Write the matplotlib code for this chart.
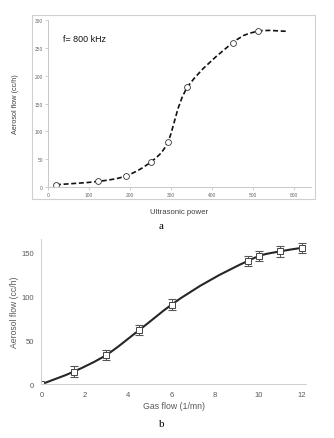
import numpy as np
import matplotlib
matplotlib.use("Agg")
import matplotlib.pyplot as plt
from matplotlib.path import Path
from matplotlib.patches import PathPatch, Rectangle

plt.rcParams['font.family'] = ['Liberation Sans', 'DejaVu Sans']

# panel a: aerosol flow vs ultrasonic power (f = 800 kHz)
power = [20, 122, 191, 251, 292, 340, 450, 512]
flow_a = [4, 10, 20, 45, 80, 179, 259, 280]
power_line = power + [580]
flow_line = flow_a + [280]

# panel b: aerosol flow vs gas flow
gas = [0, 1.5, 3, 4.5, 6, 9.5, 10, 11, 12]
flow_b = [0, 14.5, 33.5, 61.5, 90.5, 140, 145.5, 151, 155]
err_b = [0, 6, 6, 6, 6, 6, 6, 6, 6]


def smooth_path(xs, ys):
    # Catmull-Rom style bezier, similar to the spreadsheet "smoothed line"
    p = np.column_stack([xs, ys]).astype(float)
    n = len(p)
    verts = [p[0]]
    codes = [Path.MOVETO]
    for i in range(n - 1):
        p0 = p[i - 1] if i > 0 else p[i]
        p3 = p[i + 2] if i + 2 < n else p[i + 1]
        c1 = p[i] + (p[i + 1] - p0) / 6
        c2 = p[i + 1] - (p3 - p[i]) / 6
        verts += [c1, c2, p[i + 1]]
        codes += [Path.CURVE4] * 3
    return Path(verts, codes)


def smooth_path_x(xs, ys):
    # hermite curve with x as the parameter, three-point parabolic slopes
    x = np.asarray(xs, float)
    y = np.asarray(ys, float)
    n = len(x)
    h = np.diff(x)
    d = np.diff(y) / h
    m = np.empty(n)
    m[0] = d[0]
    m[-1] = d[-1]
    m[1:-1] = (h[1:] * d[:-1] + h[:-1] * d[1:]) / (h[:-1] + h[1:])
    verts = [(x[0], y[0])]
    codes = [Path.MOVETO]
    for i in range(n - 1):
        verts += [(x[i] + h[i] / 3, y[i] + m[i] * h[i] / 3),
                  (x[i + 1] - h[i] / 3, y[i + 1] - m[i + 1] * h[i] / 3),
                  (x[i + 1], y[i + 1])]
        codes += [Path.CURVE4] * 3
    return Path(verts, codes)


fig = plt.figure(figsize=(3.34, 4.39), dpi=100)

# chart-area box of panel a
fig.patches.append(Rectangle((0.0958, 0.5444), 0.847, 0.419, transform=fig.transFigure,
                             fill=False, edgecolor='#d0d0d0', linewidth=0.8))

ax1 = fig.add_axes([0.1428, 0.5718, 0.787, 0.380])
ax1.add_patch(PathPatch(smooth_path(power_line, flow_line), fill=False,
                        edgecolor='#111111', linewidth=1.2, linestyle=(0, (3, 1.6))))
ax1.plot(power, flow_a, linestyle='none', marker='o', markersize=4.2,
         markerfacecolor='white', markeredgecolor='#333333', markeredgewidth=0.6)
ax1.set_xlim(0, 640)
ax1.set_ylim(0, 300)
ax1.set_xticks(range(0, 700, 100))
ax1.set_yticks(range(0, 350, 50))
for s in ['top', 'right']:
    ax1.spines[s].set_visible(False)
for s in ['left', 'bottom']:
    ax1.spines[s].set_color('#c8c8c8')
    ax1.spines[s].set_linewidth(0.7)
ax1.tick_params(labelsize=3.5, labelcolor='#666666', color='#c8c8c8',
                length=2, width=0.6, pad=1.5)
ax1.set_xlabel('Ultrasonic power', fontsize=5.6, color='#404040', labelpad=8)
ax1.set_ylabel('Aerosol flow (cc/h)', fontsize=5.2, color='#404040', labelpad=11)
ax1.text(0.06, 0.89, 'f= 800 kHz', transform=ax1.transAxes, fontsize=6.4,
         color='#111111', va='center')

fig.text(0.482, 0.483, 'a', family=['Liberation Serif', 'DejaVu Serif'],
         fontsize=8, ha='center', va='center')

ax2 = fig.add_axes([0.1237, 0.1223, 0.7935, 0.331])
ax2.add_patch(PathPatch(smooth_path_x(gas, flow_b), fill=False,
                        edgecolor='#262626', linewidth=1.5))
ax2.errorbar(gas[1:], flow_b[1:], yerr=err_b[1:], fmt='none', ecolor='#555555',
             elinewidth=0.7, capsize=2.8, capthick=0.8)
ax2.plot(gas, flow_b, linestyle='none', marker='s', markersize=4.2,
         markerfacecolor='white', markeredgecolor='#444444', markeredgewidth=0.7)
ax2.set_xlim(0, 12.2)
ax2.set_ylim(0, 165)
ax2.set_xticks(range(0, 14, 2))
ax2.set_yticks([0, 50, 100, 150])
for s in ['top', 'right']:
    ax2.spines[s].set_visible(False)
for s in ['left', 'bottom']:
    ax2.spines[s].set_color('#d0d0d0')
    ax2.spines[s].set_linewidth(0.7)
ax2.tick_params(labelsize=5.5, labelcolor='#595959', length=0, pad=5)
ax2.set_xlabel('Gas flow (1/mn)', fontsize=6.3, color='#595959', labelpad=2)
ax2.set_ylabel('Aerosol flow (cc/h)', fontsize=6.2, color='#595959', labelpad=2)

fig.text(0.485, 0.032, 'b', family=['Liberation Serif', 'DejaVu Serif'],
         fontsize=8, ha='center', va='center')

fig.savefig('out.png', dpi=100)
plt.close()
